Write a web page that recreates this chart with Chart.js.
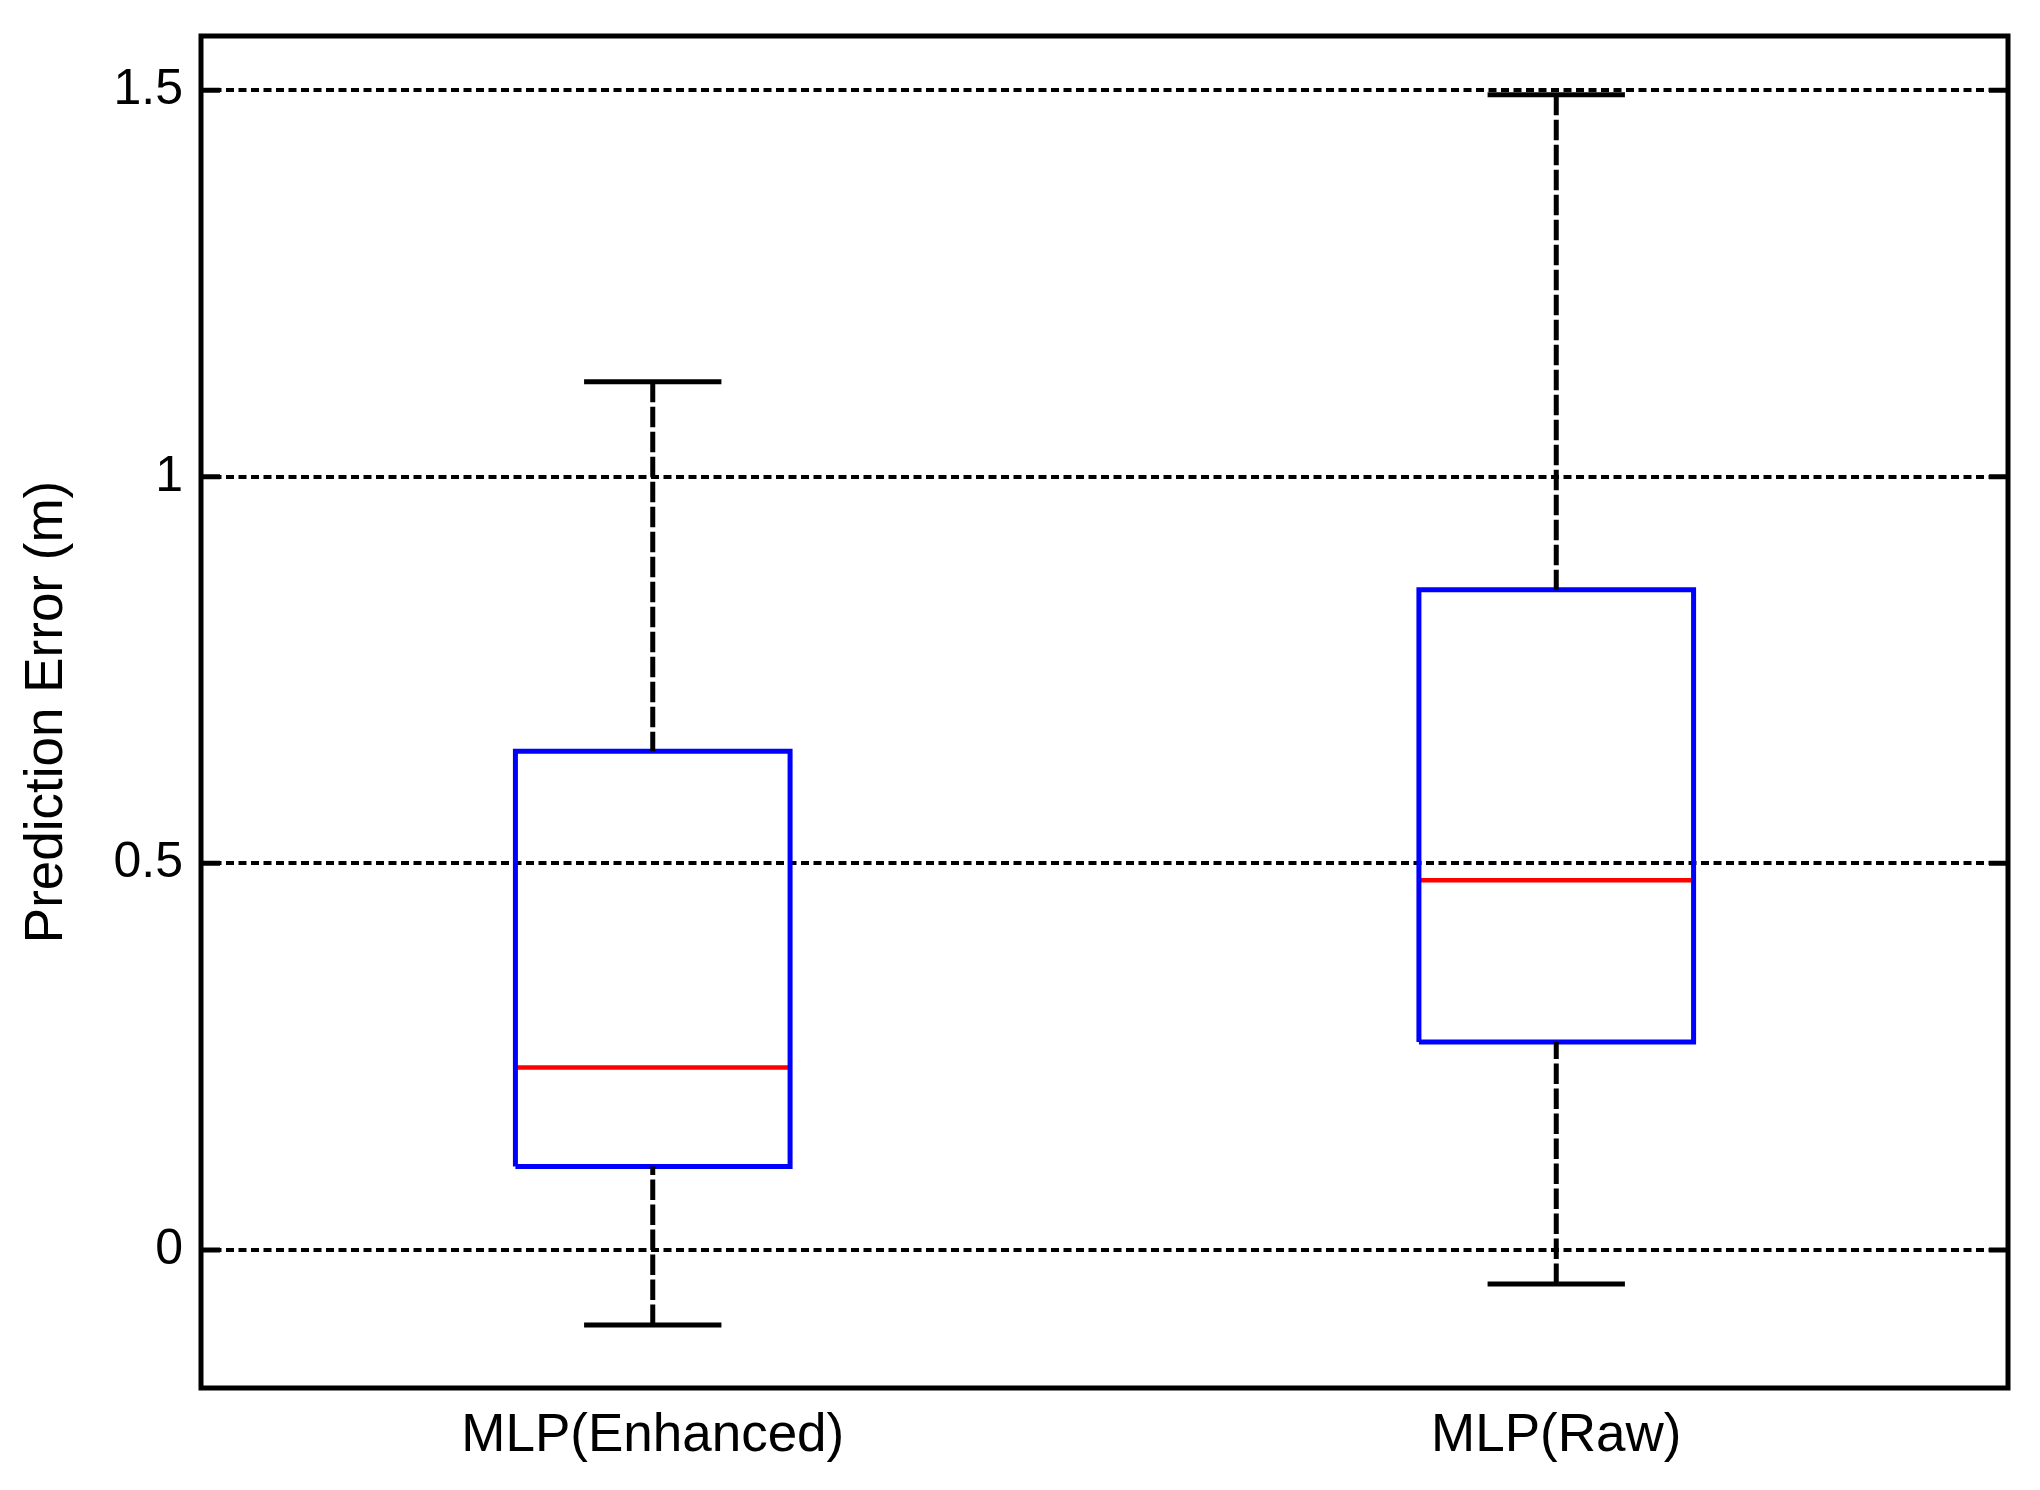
<!DOCTYPE html>
<html>
<head>
<meta charset="utf-8">
<script src="https://cdn.jsdelivr.net/npm/chart.js@4.4.1/dist/chart.umd.min.js"></script>
<style>
  html, body { margin: 0; padding: 0; background: #fff; }
  #wrap { width: 2040px; height: 1490px; }
</style>
</head>
<body>
<div id="wrap"><canvas id="boxChart" width="2040" height="1490"></canvas></div>
<script>
// data
const categories = ['MLP(Enhanced)', 'MLP(Raw)'];
const lowerWhisker = [-0.097, -0.044];
const q1 = [0.108, 0.269];
const median = [0.236, 0.478];
const q3 = [0.645, 0.854];
const upperWhisker = [1.123, 1.494];
const yTicks = [0, 0.5, 1, 1.5];

const BOX_HALF = 0.152;   // x units
const CAP_HALF = 0.076;
const LW = 5;

Chart.defaults.font.family = "'Liberation Sans', Arial, sans-serif";
Chart.defaults.color = '#000';

const datasets = [];
categories.forEach((name, i) => {
    const x = i + 1;
    // whiskers (dashed)
    datasets.push({
        data: [{x: x, y: upperWhisker[i]}, {x: x, y: q3[i]}],
        borderColor: '#000', borderWidth: LW, borderDash: [20.5, 4.5]
    });
    datasets.push({
        data: [{x: x, y: lowerWhisker[i]}, {x: x, y: q1[i]}],
        borderColor: '#000', borderWidth: LW, borderDash: [20.5, 4.5]
    });
    // caps
    datasets.push({
        data: [{x: x - CAP_HALF, y: upperWhisker[i]}, {x: x + CAP_HALF, y: upperWhisker[i]}],
        borderColor: '#000', borderWidth: LW
    });
    datasets.push({
        data: [{x: x - CAP_HALF, y: lowerWhisker[i]}, {x: x + CAP_HALF, y: lowerWhisker[i]}],
        borderColor: '#000', borderWidth: LW
    });
    // box
    datasets.push({
        data: [
            {x: x - BOX_HALF, y: q1[i]}, {x: x + BOX_HALF, y: q1[i]},
            {x: x + BOX_HALF, y: q3[i]}, {x: x - BOX_HALF, y: q3[i]},
            {x: x - BOX_HALF, y: q1[i]}
        ],
        borderColor: '#0000ff', borderWidth: LW, borderJoinStyle: 'miter'
    });
    // median
    datasets.push({
        data: [{x: x - BOX_HALF, y: median[i]}, {x: x + BOX_HALF, y: median[i]}],
        borderColor: '#ff0000', borderWidth: 4.5
    });
});

datasets.forEach(d => {
    d.type = 'line';
    d.pointRadius = 0;
    d.fill = false;
    d.tension = 0;
});

// axes box + inward tick marks
const frame = {
    id: 'frame',
    afterDatasetsDraw(chart) {
        const {ctx, chartArea: a, scales} = chart;
        ctx.save();
        ctx.strokeStyle = '#000';
        ctx.lineWidth = LW;
        ctx.setLineDash([]);
        ctx.beginPath();
        yTicks.forEach(v => {
            const y = scales.y.getPixelForValue(v);
            ctx.moveTo(a.left, y); ctx.lineTo(a.left + 19, y);
            ctx.moveTo(a.right - 19, y); ctx.lineTo(a.right, y);
        });
        ctx.stroke();
        ctx.lineJoin = 'miter';
        ctx.strokeRect(a.left, a.top, a.right - a.left, a.bottom - a.top);
        ctx.restore();
    }
};

function noPad(s) {
    s.paddingTop = 0; s.paddingBottom = 0;
    s.paddingLeft = 0; s.paddingRight = 0;
}

new Chart(document.getElementById('boxChart'), {
    type: 'line',
    data: { datasets: datasets },
    options: {
        responsive: false,
        animation: false,
        layout: { padding: { top: 36, right: 32, left: 0, bottom: 0 } },
        plugins: { legend: { display: false }, tooltip: { enabled: false } },
        scales: {
            x: {
                type: 'linear',
                min: 0.5, max: 2.5,
                grid: { display: false, drawTicks: false },
                border: { display: false },
                afterBuildTicks: s => { s.ticks = categories.map((c, i) => ({ value: i + 1 })); },
                afterFit: s => { s.height = 102; noPad(s); },
                ticks: {
                    autoSkip: false, maxRotation: 0,
                    padding: 17,
                    font: { size: 53 },
                    callback: v => categories[v - 1]
                }
            },
            y: {
                type: 'linear',
                min: -0.1785, max: 1.57,
                grid: { color: '#000', lineWidth: 4, drawTicks: false },
                border: { display: false, dash: [8, 4.5] },
                afterBuildTicks: s => { s.ticks = yTicks.map(v => ({ value: v })); },
                afterFit: s => { s.width = 201; noPad(s); },
                ticks: {
                    padding: 18,
                    font: { size: 50 },
                    callback: v => String(v)
                },
                title: {
                    display: true,
                    text: 'Prediction Error (m)',
                    font: { size: 53 },
                    padding: { top: 16, bottom: 0 }
                }
            }
        }
    },
    plugins: [frame]
});
</script>
</body>
</html>
